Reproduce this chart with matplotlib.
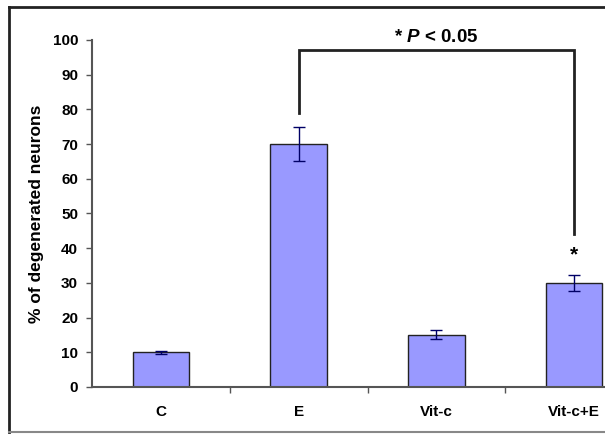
import matplotlib
matplotlib.use('Agg')
import matplotlib.pyplot as plt
from matplotlib.lines import Line2D
import numpy as np

groups = ['C', 'E', 'Vit-c', 'Vit-c+E']
pct = [10, 70, 15, 30]
err = [0.5, 4.8, 1.3, 2.2]

# significance bracket E vs Vit-c+E
br_left, br_right = 1, 3
br_top = 97
br_left_low = 79
br_right_low = 44
star_y = 38

plt.rcParams['font.family'] = ['Liberation Sans', 'DejaVu Sans']
plt.rcParams['mathtext.fontset'] = 'custom'
plt.rcParams['mathtext.it'] = 'Liberation Sans:italic:bold'

fig = plt.figure(figsize=(6.05, 4.34), dpi=100)
ax = fig.add_axes([92/605., 1-387/434., 551/605., 347/434.])

x = np.arange(len(groups))
ax.bar(x, pct, width=0.41, color='#9999ff', edgecolor='#222222', linewidth=1.0, zorder=2)
ax.errorbar(x, pct, yerr=err, fmt='none', ecolor='#000066', elinewidth=1.0,
            capsize=4, capthick=1.0, zorder=3)

ax.set_xlim(-0.5, 3.5)
ax.set_ylim(0, 100)
ax.set_yticks(range(0, 101, 10))
ax.set_yticklabels([str(v) for v in range(0, 101, 10)], fontsize=11, fontweight='bold')
ax.set_xticks(x)
ax.set_xticklabels(groups, fontsize=11, fontweight='bold')
ax.tick_params(axis='x', length=0, pad=13)
ax.set_xticks([0.5, 1.5, 2.5], minor=True)
ax.tick_params(axis='x', which='minor', length=4, width=1, color='#555555')
ax.tick_params(axis='y', length=4, width=1, color='#555555', pad=6)
for s in ['top', 'right']:
    ax.spines[s].set_visible(False)
for s in ['left', 'bottom']:
    ax.spines[s].set_color('#555555')
    ax.spines[s].set_linewidth(1.5)
ax.set_ylabel('% of degenerated neurons', fontsize=12.5, fontweight='bold', labelpad=6)

ax.plot([br_left, br_left, br_right, br_right],
        [br_left_low, br_top, br_top, br_right_low],
        color='#222222', lw=2, clip_on=False, solid_joinstyle='miter')
ax.text((br_left + br_right) / 2, br_top + 1.2, r'* $P$ < 0.05', ha='center', va='bottom',
        fontsize=13.5, fontweight='bold')
ax.text(br_right, star_y, '*', ha='center', va='center', fontsize=15, fontweight='bold')

# outer frame
fig.add_artist(Line2D([9/605., 9/605.], [1-432/434., 1-7/434.], color='#222222', lw=2))
fig.add_artist(Line2D([9/605., 1.0], [1-7/434., 1-7/434.], color='#222222', lw=2))
fig.add_artist(Line2D([9/605., 1.0], [1-432/434., 1-432/434.], color='#888888', lw=1.5))

fig.savefig('out.png', dpi=100)
